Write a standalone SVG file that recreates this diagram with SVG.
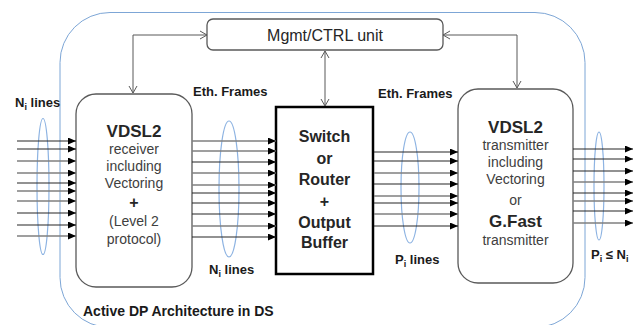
<svg xmlns="http://www.w3.org/2000/svg" width="643" height="325" viewBox="0 0 643 325">
<style>
text{font-family:"Liberation Sans",Arial,sans-serif;fill:#262626}
.b{font-weight:bold}
.r{fill:#404040;font-size:14px}
.lbl{font-weight:bold;font-size:13px;fill:#1a1a1a}
.box{fill:#fff;stroke:#595959;stroke-width:1.3}
.ell{fill:none;stroke:#8db3e2;stroke-width:1.2}
.ln{stroke:#262626;stroke-width:1.1;marker-end:url(#ah)}
.lg{stroke:#7f7f7f;stroke-width:1.3;marker-end:url(#ah)}
.ctl{fill:none;stroke:#595959;stroke-width:1;marker-start:url(#oa);marker-end:url(#oa)}
</style>
<defs>
<marker id="ah" markerUnits="userSpaceOnUse" markerWidth="8" markerHeight="7" refX="8" refY="3.5" orient="auto"><path d="M0,0 L8,3.5 L0,7 z" fill="#000"/></marker>
<marker id="oa" markerUnits="userSpaceOnUse" markerWidth="10" markerHeight="10" refX="8" refY="5" orient="auto-start-reverse"><path d="M1,1 L8,5 L1,9" fill="none" stroke="#595959" stroke-width="1"/></marker>
</defs>
<rect width="643" height="325" fill="#fff"/>
<g id="boundary"><rect x="60" y="12.5" width="525" height="315" rx="50" fill="none" stroke="#7da6d6" stroke-width="1"/></g>
<g id="mgmt"><rect class="box" x="207" y="19" width="236" height="31" rx="6"/><text x="325" y="41" text-anchor="middle" font-size="16">Mgmt/CTRL unit</text></g>
<g id="receiver"><rect class="box" x="76" y="94" width="116" height="193" rx="20"/>
<text class="b" x="134" y="137" text-anchor="middle" font-size="17">VDSL2</text>
<text class="r" x="134" y="154" text-anchor="middle">receiver</text>
<text class="r" x="134" y="171" text-anchor="middle">including</text>
<text class="r" x="134" y="188" text-anchor="middle">Vectoring</text>
<text class="b" x="134" y="208" text-anchor="middle" font-size="16">+</text>
<text class="r" x="134" y="226" text-anchor="middle">(Level 2</text>
<text class="r" x="134" y="244" text-anchor="middle">protocol)</text></g>
<g id="switch"><rect x="276" y="107" width="97" height="167" fill="#fff" stroke="#000" stroke-width="2.5"/>
<text class="b" x="324.5" y="142" text-anchor="middle" font-size="16">Switch</text>
<text class="b" x="324.5" y="164" text-anchor="middle" font-size="16">or</text>
<text class="b" x="324.5" y="185" text-anchor="middle" font-size="16">Router</text>
<text class="b" x="324.5" y="207" text-anchor="middle" font-size="16">+</text>
<text class="b" x="324.5" y="228" text-anchor="middle" font-size="16">Output</text>
<text class="b" x="324.5" y="248" text-anchor="middle" font-size="16">Buffer</text></g>
<g id="transmitter"><rect class="box" x="458" y="89" width="115" height="194" rx="20"/>
<text class="b" x="515.5" y="133" text-anchor="middle" font-size="17">VDSL2</text>
<text class="r" x="515.5" y="150" text-anchor="middle">transmitter</text>
<text class="r" x="515.5" y="167" text-anchor="middle">including</text>
<text class="r" x="515.5" y="184" text-anchor="middle">Vectoring</text>
<text class="r" x="515.5" y="205" text-anchor="middle">or</text>
<text class="b" x="515.5" y="227" text-anchor="middle" font-size="17">G.Fast</text>
<text class="r" x="515.5" y="245" text-anchor="middle">transmitter</text></g>
<g id="bundles">
<ellipse class="ell" cx="43" cy="186.5" rx="6" ry="68"/>
<ellipse class="ell" cx="229" cy="189" rx="10" ry="68"/>
<ellipse class="ell" cx="410" cy="187.5" rx="9" ry="55.5"/>
<ellipse class="ell" cx="599" cy="186" rx="5" ry="54"/>
</g>
<g id="connectors">
<path class="ctl" d="M207,35 H133 V93"/>
<path class="ctl" d="M325,51 V106"/>
<path class="ctl" d="M443,35 H517 V88"/>
<g>
<line class="ln" x1="17" y1="141" x2="76" y2="141"/><line class="ln" x1="17" y1="149" x2="76" y2="149"/><line class="lg" x1="17" y1="161" x2="76" y2="161"/><line class="lg" x1="17" y1="173" x2="76" y2="173"/><line class="ln" x1="17" y1="183" x2="76" y2="183"/><line class="lg" x1="17" y1="191" x2="76" y2="191"/><line class="lg" x1="17" y1="201" x2="76" y2="201"/><line class="ln" x1="17" y1="213" x2="76" y2="213"/><line class="ln" x1="17" y1="225" x2="76" y2="225"/><line class="lg" x1="17" y1="236" x2="76" y2="236"/>
</g>
<g>
<line class="lg" x1="192" y1="141" x2="276" y2="141"/><line class="lg" x1="192" y1="151" x2="276" y2="151"/><line class="ln" x1="192" y1="162" x2="276" y2="162"/><line class="lg" x1="192" y1="173" x2="276" y2="173"/><line class="lg" x1="192" y1="185" x2="276" y2="185"/><line class="ln" x1="192" y1="193" x2="276" y2="193"/><line class="ln" x1="192" y1="203" x2="276" y2="203"/><line class="ln" x1="192" y1="214" x2="276" y2="214"/><line class="lg" x1="192" y1="226" x2="276" y2="226"/><line class="ln" x1="192" y1="237" x2="276" y2="237"/>
</g>
<g>
<line class="ln" x1="374" y1="152" x2="458" y2="152"/><line class="ln" x1="374" y1="161" x2="458" y2="161"/><line class="lg" x1="374" y1="173" x2="458" y2="173"/><line class="ln" x1="374" y1="184" x2="458" y2="184"/><line class="lg" x1="374" y1="196" x2="458" y2="196"/><line class="ln" x1="374" y1="203" x2="458" y2="203"/><line class="lg" x1="374" y1="214" x2="458" y2="214"/><line class="ln" x1="374" y1="226" x2="458" y2="226"/>
</g>
<g>
<line class="ln" x1="573" y1="149" x2="633" y2="149"/><line class="ln" x1="573" y1="159" x2="633" y2="159"/><line class="ln" x1="573" y1="171" x2="633" y2="171"/><line class="lg" x1="573" y1="182" x2="633" y2="182"/><line class="ln" x1="573" y1="193" x2="633" y2="193"/><line class="lg" x1="573" y1="201" x2="633" y2="201"/><line class="ln" x1="573" y1="211" x2="633" y2="211"/><line class="lg" x1="573" y1="223" x2="633" y2="223"/>
</g>
</g>
<g id="labels">
<text class="lbl" x="15" y="107">N<tspan style="font-size:9px" dy="3">i</tspan><tspan dy="-3"> lines</tspan></text>
<text class="lbl" x="193" y="96">Eth. Frames</text>
<text class="lbl" x="378" y="98">Eth. Frames</text>
<text class="lbl" x="209" y="274">N<tspan style="font-size:9px" dy="3">i</tspan><tspan dy="-3"> lines</tspan></text>
<text class="lbl" x="395" y="264">P<tspan style="font-size:9px" dy="3">i</tspan><tspan dy="-3"> lines</tspan></text>
<text class="lbl" x="591" y="259">P<tspan style="font-size:9px" dy="3">i</tspan><tspan dy="-3"> ≤ N</tspan><tspan style="font-size:9px" dy="3">i</tspan></text>
<text class="lbl" x="83" y="316" style="font-size:14px">Active DP Architecture in DS</text>
</g>
</svg>
